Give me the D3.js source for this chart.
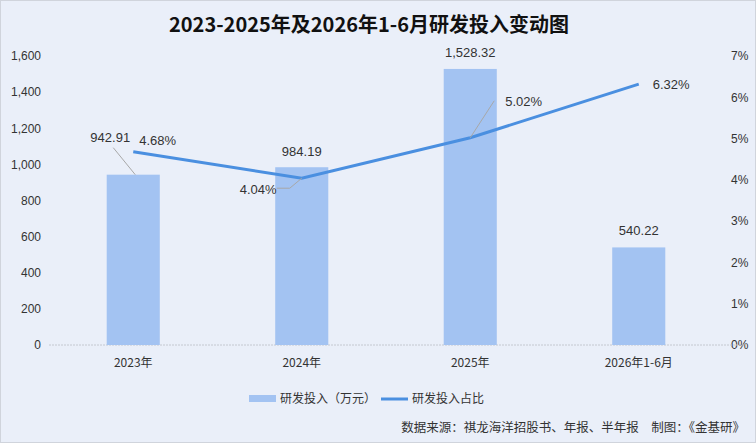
<!DOCTYPE html>
<html>
<head>
<meta charset="utf-8">
<script src="https://cdn.jsdelivr.net/npm/d3@7"></script>
<style>
  html, body { margin: 0; padding: 0; background: #eaeff9; }
  svg { display: block; font-family: "Liberation Sans", Arial, "Noto Sans CJK SC", sans-serif; }
</style>
</head>
<body>
<div id="main-container"></div>
<script>
// Data
const CATEGORIES = ['2023年', '2024年', '2025年', '2026年1-6月'];
const RD_SPEND = [942.91, 984.19, 1528.32, 540.22];   // 万元
const RD_RATIO = [4.68, 4.04, 5.02, 6.32];            // %
const LEFT_TICKS = [0, 200, 400, 600, 800, 1000, 1200, 1400, 1600];
const RIGHT_TICKS = [0, 1, 2, 3, 4, 5, 6, 7];

const W = 756, H = 443;
const MARGIN = { top: 56, right: 33, bottom: 98, left: 49 };
const BAR_COLOR = '#a3c3f2';
const LINE_COLOR = '#4a8fe0';
const TEXT_COLOR = '#333';
const CN_FONT = '"Noto Sans CJK SC", "Liberation Sans", sans-serif';

const SVG = d3.select('#main-container').append('svg')
    .attr('width', W)
    .attr('height', H);

SVG.append('rect')
    .attr('x', 0.5).attr('y', 0.5)
    .attr('width', W - 1).attr('height', H - 1)
    .attr('fill', '#eaeff9')
    .attr('stroke', '#d0d4dc');

// Scales
const X = d3.scaleBand()
    .domain(CATEGORIES)
    .range([MARGIN.left, W - MARGIN.right])
    .paddingInner(0.685)
    .paddingOuter(0.3425);
const Y_LEFT = d3.scaleLinear().domain([0, 1600]).range([H - MARGIN.bottom, MARGIN.top]);
const Y_RIGHT = d3.scaleLinear().domain([0, 7]).range([H - MARGIN.bottom, MARGIN.top]);
const cx = c => X(c) + X.bandwidth() / 2;

// Title
SVG.append('text')
    .attr('x', W / 2 - 9).attr('y', 32)
    .attr('text-anchor', 'middle')
    .style('font-family', CN_FONT)
    .style('font-size', '20px')
    .style('font-weight', 'bold')
    .attr('fill', '#111')
    .text('2023-2025年及2026年1-6月研发投入变动图');

// Axes
const leftAxis = SVG.append('g')
    .attr('transform', `translate(${41}, 0)`)
    .call(d3.axisLeft(Y_LEFT).tickValues(LEFT_TICKS).tickSize(0).tickPadding(0).tickFormat(d3.format(',')));
const rightAxis = SVG.append('g')
    .attr('transform', `translate(${731}, 0)`)
    .call(d3.axisRight(Y_RIGHT).tickValues(RIGHT_TICKS).tickSize(0).tickPadding(0).tickFormat(d => d + '%'));
[leftAxis, rightAxis].forEach(g => {
    g.select('.domain').remove();
    g.selectAll('text').attr('fill', TEXT_COLOR).style('font-size', '12px');
});

// Baseline
SVG.append('line')
    .attr('x1', MARGIN.left).attr('x2', W - 10)
    .attr('y1', Y_LEFT(0)).attr('y2', Y_LEFT(0))
    .attr('stroke', '#c4c8d0')
    .attr('stroke-dasharray', '2,1');

// X axis labels
SVG.append('g').selectAll('text')
    .data(CATEGORIES).enter()
    .append('text')
    .attr('x', d => cx(d))
    .attr('y', Y_LEFT(0) + 22)
    .attr('text-anchor', 'middle')
    .attr('fill', TEXT_COLOR)
    .style('font-family', CN_FONT)
    .style('font-size', '12px')
    .text(d => d);

// Bars
SVG.append('g').selectAll('rect')
    .data(RD_SPEND).enter()
    .append('rect')
    .attr('x', (d, i) => X(CATEGORIES[i]))
    .attr('y', d => Y_LEFT(d))
    .attr('width', X.bandwidth())
    .attr('height', d => Y_LEFT(0) - Y_LEFT(d))
    .attr('fill', BAR_COLOR);

// Line
const line = d3.line()
    .x((d, i) => cx(CATEGORIES[i]))
    .y(d => Y_RIGHT(d));
SVG.append('path')
    .datum(RD_RATIO)
    .attr('d', line)
    .attr('fill', 'none')
    .attr('stroke', LINE_COLOR)
    .attr('stroke-width', 3);

// Leader lines (label offsets relative to marks)
const LEADER = '#a8a8a8';
const p = i => [cx(CATEGORIES[i]), Y_RIGHT(RD_RATIO[i])];
const b = i => [cx(CATEGORIES[i]), Y_LEFT(RD_SPEND[i])];
SVG.append('polyline')
    .attr('points', [[b(0)[0] - 20, b(0)[1] - 27], [b(0)[0] + 2, b(0)[1]]].join(' '))
    .attr('fill', 'none').attr('stroke', LEADER);
SVG.append('polyline')
    .attr('points', [[p(1)[0] - 25, p(1)[1] + 10], [p(1)[0] - 12, p(1)[1] + 10], p(1)].join(' '))
    .attr('fill', 'none').attr('stroke', LEADER);
SVG.append('polyline')
    .attr('points', [p(2), [p(2)[0] + 24, p(2)[1] - 37]].join(' '))
    .attr('fill', 'none').attr('stroke', LEADER);

// Labels
const labelStyle = sel => sel
    .attr('fill', TEXT_COLOR)
    .style('font-size', '13px');
const SPEND_OFFSETS = [[-23, -33], [0, -11], [0, -12], [0, -12]];
const RATIO_OFFSETS = [[6, -7], [-62, 16], [35, -32], [14, 5]];
SVG.append('g').selectAll('text')
    .data(RD_SPEND).enter()
    .append('text')
    .attr('x', (d, i) => cx(CATEGORIES[i]) + SPEND_OFFSETS[i][0])
    .attr('y', (d, i) => Y_LEFT(d) + SPEND_OFFSETS[i][1])
    .attr('text-anchor', 'middle')
    .call(labelStyle)
    .text(d => d3.format(',.2f')(d));
SVG.append('g').selectAll('text')
    .data(RD_RATIO).enter()
    .append('text')
    .attr('x', (d, i) => cx(CATEGORIES[i]) + RATIO_OFFSETS[i][0])
    .attr('y', (d, i) => Y_RIGHT(d) + RATIO_OFFSETS[i][1])
    .attr('text-anchor', 'start')
    .call(labelStyle)
    .text(d => d.toFixed(2) + '%');

// Legend
const LEGEND = SVG.append('g').attr('transform', 'translate(249, 399)');
LEGEND.append('rect')
    .attr('x', 0).attr('y', -4)
    .attr('width', 27).attr('height', 7)
    .attr('fill', BAR_COLOR);
LEGEND.append('text')
    .attr('x', 31).attr('y', 4)
    .attr('fill', TEXT_COLOR)
    .style('font-family', CN_FONT)
    .style('font-size', '12px')
    .text('研发投入（万元）');
LEGEND.append('line')
    .attr('x1', 132).attr('x2', 159)
    .attr('y1', 0).attr('y2', 0)
    .attr('stroke', LINE_COLOR)
    .attr('stroke-width', 3);
LEGEND.append('text')
    .attr('x', 163).attr('y', 4)
    .attr('fill', TEXT_COLOR)
    .style('font-family', CN_FONT)
    .style('font-size', '12px')
    .text('研发投入占比');

// Source
SVG.append('text')
    .attr('x', 745).attr('y', 432)
    .attr('text-anchor', 'end')
    .attr('fill', TEXT_COLOR)
    .style('font-family', CN_FONT)
    .style('font-size', '12.5px')
    .text('数据来源：祺龙海洋招股书、年报、半年报　制图：《金基研》');
</script>
</body>
</html>
